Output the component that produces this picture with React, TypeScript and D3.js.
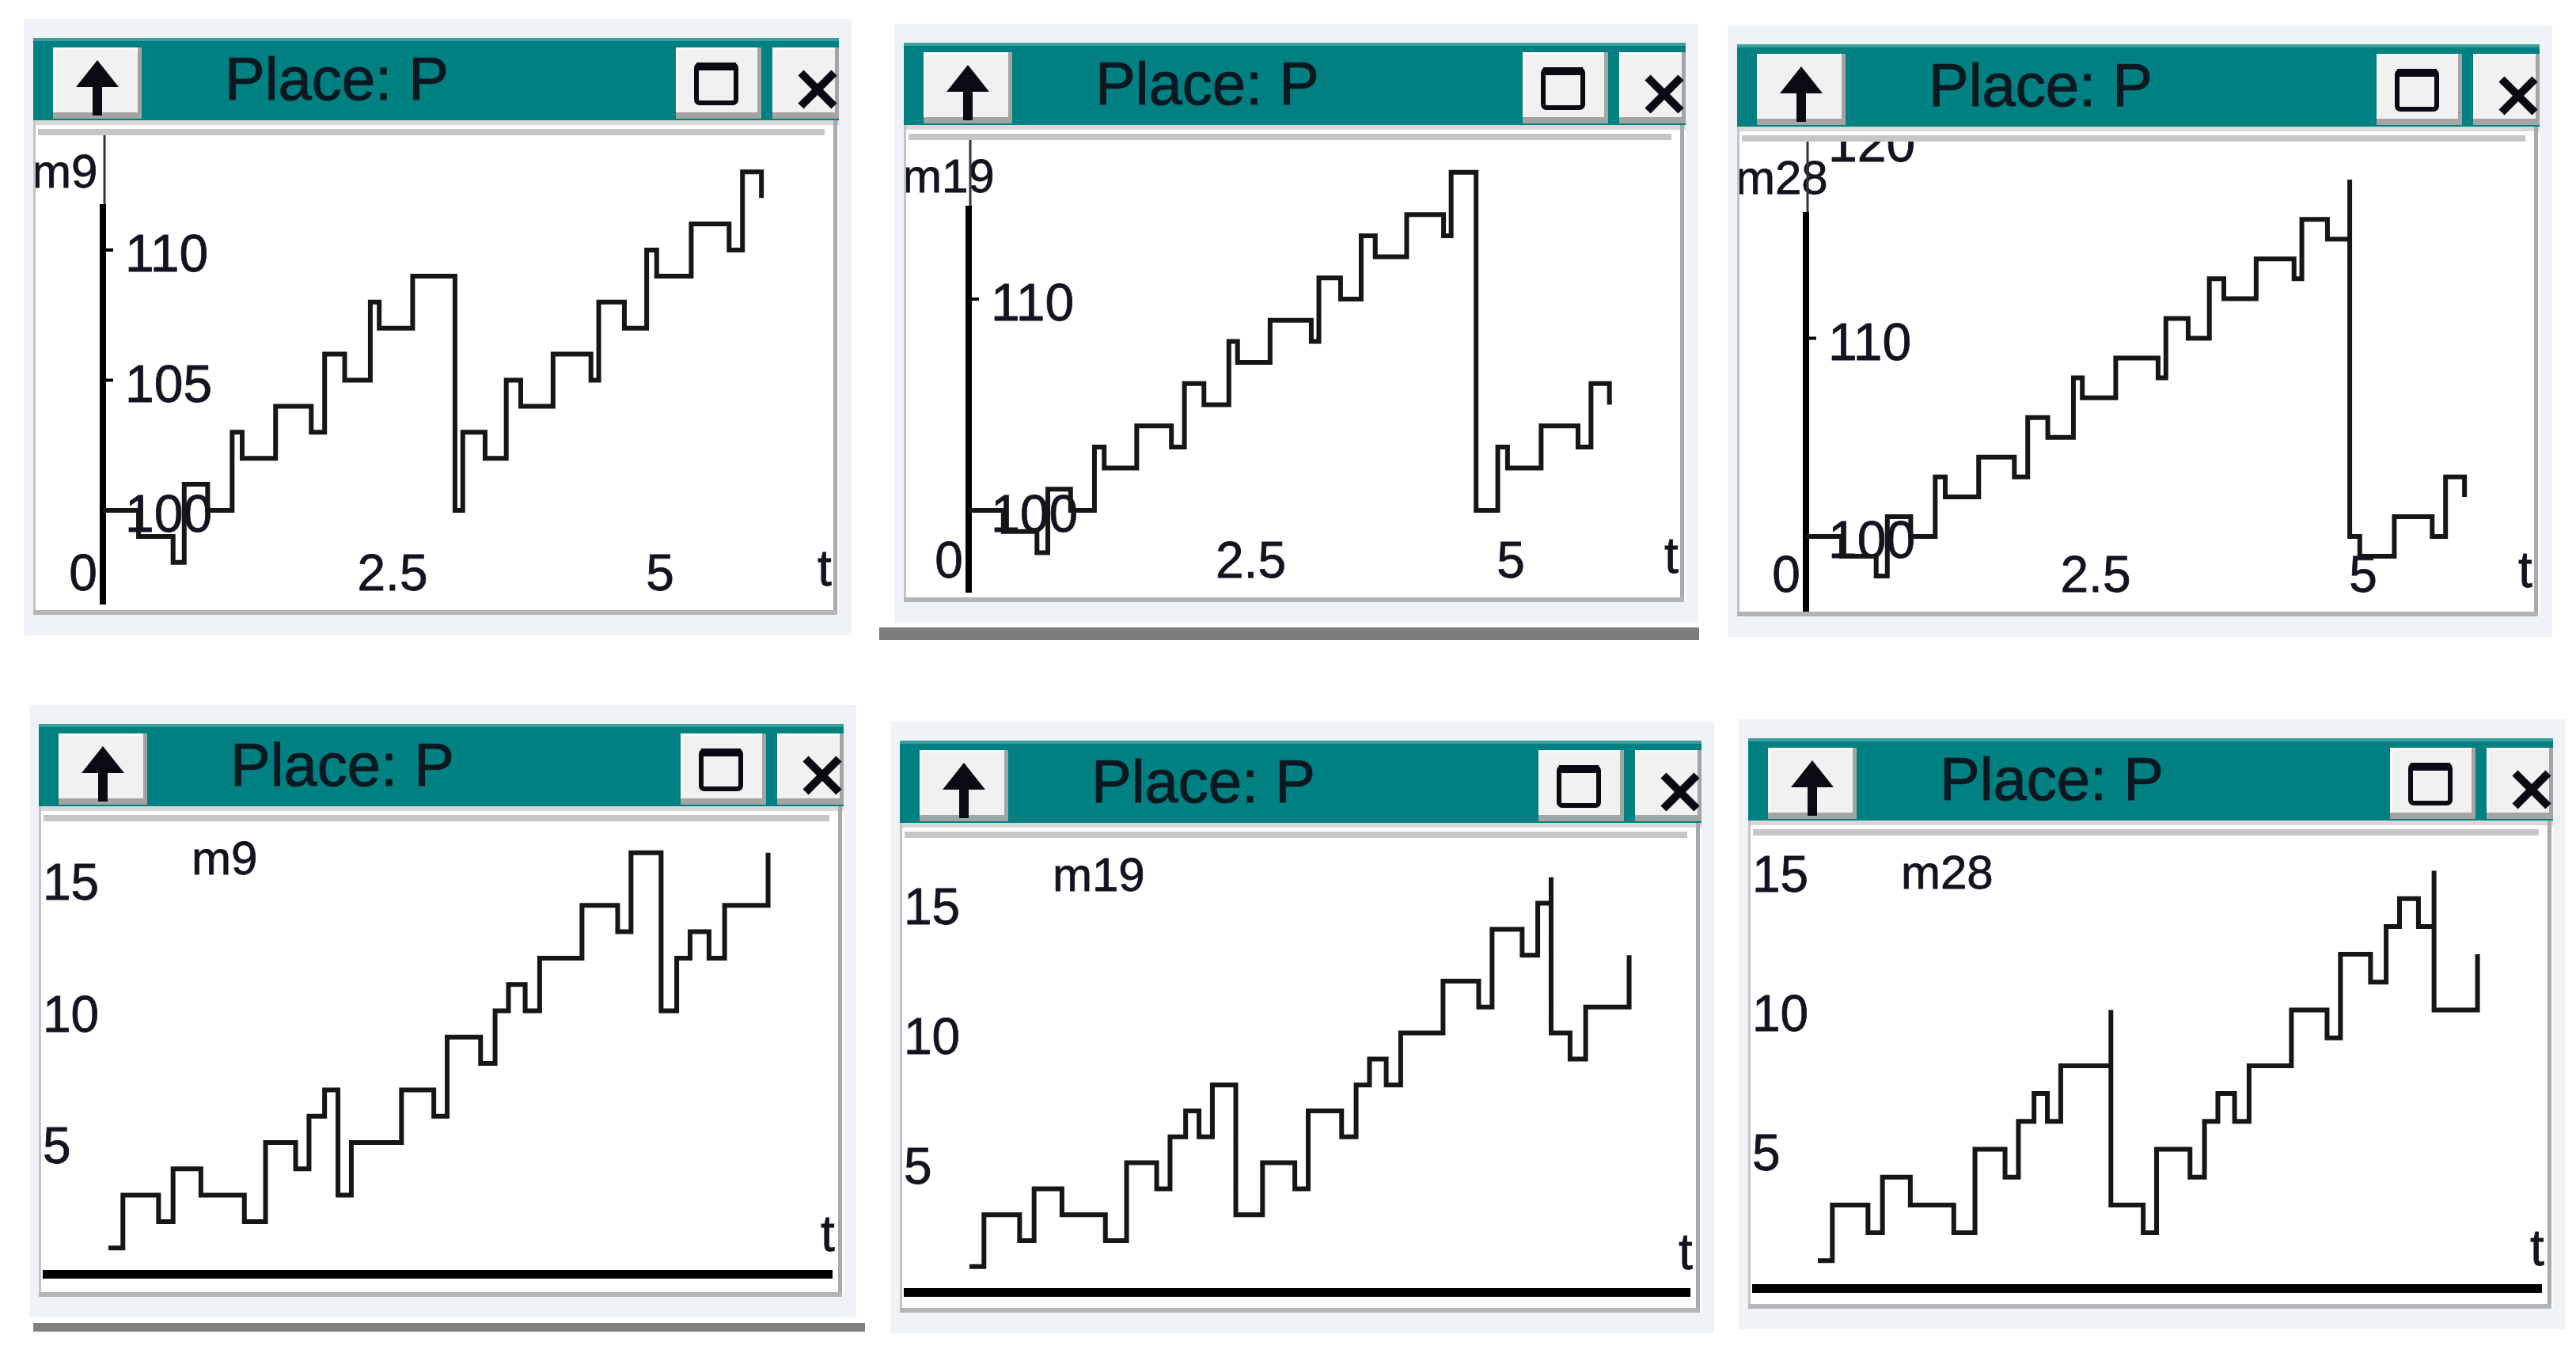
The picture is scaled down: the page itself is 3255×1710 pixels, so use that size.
import React from 'react';
import * as d3 from 'd3';

// a number is the marking after the event, a pair is [peak, value after reset]
type Level = number | [number, number];

const title = 'Place: P';
const timeLabel = 't';
const xTickValues = [0, 2.5, 5];
const xTickLabels = ['0', '2.5', '5'];

// upper row: marking of P against time, one window per run
const topNames = ['m9', 'm19', 'm28'];
const topTimes = [0, 0.32, 0.63, 0.73, 0.94, 1.16, 1.25, 1.55, 1.87, 1.99, 2.17, 2.4, 2.48, 2.78, 3.16, 3.23, 3.43, 3.62, 3.75, 4.04, 4.38, 4.45, 4.68, 4.88, 4.97, 5.28, 5.62, 5.74, 5.91];
const topM9: Level[] = [100, 99, 98, 101, 100, 103, 102, 104, 103, 106, 105, 108, 107, 109, 100, 103, 102, 105, 104, 106, 105, 108, 107, 110, 109, 111, 110, 113, 112];
const topM19: Level[] = [100, 99, 98, 101, 100, 103, 102, 104, 103, 106, 105, 108, 107, 109, 108, 111, 110, 113, 112, 114, 113, 116, 100, 103, 102, 104, 103, 106, 105];
const topM28: Level[] = [100, 99, 98, 101, 100, 103, 102, 104, 103, 106, 105, 108, 107, 109, 108, 111, 110, 113, 112, 114, 113, 116, 115, [118, 100], 99, 101, 100, 103, 102];
const topTicks = [[100, 105, 110], [100, 110], [100, 110, 120]];

// lower row
const bottomNames = ['m9', 'm19', 'm28'];
const bottomTimes = [0, 0.13, 0.45, 0.58, 0.83, 1.22, 1.41, 1.68, 1.8, 1.94, 2.06, 2.18, 2.39, 2.63, 2.92, 3.04, 3.34, 3.47, 3.59, 3.74, 3.87, 4.25, 4.57, 4.69, 4.96, 5.1, 5.22, 5.39, 5.53, 5.92];
const bottomM9: Level[] = [1, 3, 2, 4, 3, 2, 5, 4, 6, 7, 3, 5, 5, 7, 6, 9, 8, 10, 11, 10, 12, 14, 13, 16, 10, 12, 13, 12, 14, 16];
const bottomM19: Level[] = [1, 3, 2, 4, 3, 2, 5, 4, 6, 7, 6, 8, 3, 5, 4, 7, 6, 8, 9, 8, 10, 12, 11, 14, 13, 15, [16, 10], 9, 11, 13];
const bottomM28: Level[] = [1, 3, 2, 4, 3, 2, 5, 4, 6, 7, 6, 8, 8, [10, 3], 2, 5, 4, 6, 7, 6, 8, 10, 9, 12, 11, 13, 14, 13, [15, 10], 12];
const bottomTicks = [5, 10, 15];

const topSeries = [topM9, topM19, topM28];
const bottomSeries = [bottomM9, bottomM19, bottomM28];

// window placement on the page
const topFrames = [
  { x: 42, y: 48, w: 1018, h: 729, axisX: 130, tUnit: 140.8, y100: 645, y110: 316, axisTop: 258, axisBottom: 764 },
  { x: 1142, y: 54, w: 988, h: 707, axisX: 1224, tUnit: 137, y100: 645, y110: 378, axisTop: 260, axisBottom: 749 },
  { x: 2195, y: 56, w: 1014, h: 723, axisX: 2282, tUnit: 140.8, y100: 678, y110: 427.5, axisTop: 268, axisBottom: 774 },
];
const bottomFrames = [
  { x: 49, y: 915, w: 1017, h: 724, y0: 1610.5, y15: 1111 },
  { x: 1137, y: 936, w: 1013, h: 723, y0: 1633.6, y15: 1141.6 },
  { x: 2209, y: 933, w: 1017, h: 721, y0: 1628.5, y15: 1100.5 },
];

const FONT = '"Liberation Sans", Arial, Helvetica, sans-serif';
const TEAL = '#008080';
const INK = '#141420';
const TH = 104;

function toPoints(times: number[], values: Level[]): [number, number][] {
  const pts: [number, number][] = [];
  times.forEach((t, i) => {
    const v = values[i];
    if (Array.isArray(v)) {
      pts.push([t, v[0]], [t, v[1]]);
    } else {
      pts.push([t, v]);
    }
  });
  return pts;
}

const Button = ({ x, y, w, h }: { x: number; y: number; w: number; h: number }) => (
  <g>
    <rect x={x} y={y} width={w} height={h} fill="#a4a4a4" />
    <rect x={x} y={y} width={w - 5} height={h - 8} fill="#f1f1f1" />
    <rect x={x} y={y} width={w - 5} height={3} fill="#ffffff" />
    <rect x={x} y={y} width={3} height={h - 8} fill="#ffffff" />
  </g>
);

function Window({ f }: { f: { x: number; y: number; w: number; h: number } }) {
  const { x, y, w, h } = f;
  return (
    <g transform={`translate(${x},${y})`}>
      <rect x={-12} y={-24} width={w + 28} height={h + 50} fill="#eff3f8" />
      <rect x={0} y={0} width={w} height={h} fill="#ffffff" />
      <rect x={0} y={0} width={w} height={TH} fill={TEAL} />
      <rect x={0} y={0} width={w} height={4} fill="#3c9e9e" />
      <Button x={25} y={12} w={112} h={90} />
      <path d="M81,28 L108,62 L87,62 L87,98 L75,98 L75,62 L54,62 Z" fill="#0a0a12" />
      <text x={242} y={78} fontSize={76} fontFamily={FONT} fill="#0b1822" stroke="#0b1822" strokeWidth={1}>
        {title}
      </text>
      <Button x={w - 206} y={12} w={108} h={90} />
      <rect x={w - 180} y={34} width={50} height={48} rx={4} fill="none" stroke="#0a0a12" strokeWidth={6} />
      <rect x={w - 180} y={31} width={50} height={10} fill="#0a0a12" />
      <Button x={w - 84} y={12} w={84} h={90} />
      <path d={`M${w - 48},44 L${w - 6},86 M${w - 6},44 L${w - 48},86`} stroke="#0a0a12" strokeWidth={10} />
      <rect x={0} y={TH} width={w} height={6} fill="#d8d8d8" />
      <rect x={6} y={TH + 11} width={w - 24} height={8} fill="#c6c6c6" />
      <rect x={0} y={TH} width={3} height={h - TH} fill="#c4c4c4" />
      <rect x={w - 7} y={TH} width={5} height={h - TH} fill="#a9a9a9" />
      <rect x={0} y={h - 6} width={w - 2} height={6} fill="#b4b4b4" />
    </g>
  );
}

function TopChart({ i }: { i: number }) {
  const f = topFrames[i];
  const x = d3.scaleLinear().domain([0, 5]).range([f.axisX, f.axisX + 5 * f.tUnit]);
  const y = d3.scaleLinear().domain([100, 110]).range([f.y100, f.y110]);
  const line = d3
    .line<[number, number]>()
    .x((d) => x(d[0]))
    .y((d) => y(d[1]))
    .curve(d3.curveStepAfter);
  const pts = toPoints(topTimes, topSeries[i]);
  const clipId = `clip-top-${i}`;
  const labelY = f.y + f.h - 53;
  return (
    <g fontFamily={FONT}>
      <Window f={f} />
      <clipPath id={clipId}>
        <rect x={f.x + 3} y={f.y + TH + 19} width={f.w - 10} height={f.h - TH - 25} />
      </clipPath>
      <g clipPath={`url(#${clipId})`} stroke={INK} strokeWidth={0.8}>
        <text x={f.x - 2} y={f.y + 189} fontSize={60} fill={INK}>
          {topNames[i]}
        </text>
        <line x1={f.axisX + 2} x2={f.axisX + 2} y1={f.y + TH + 19} y2={f.axisTop} stroke="#333" strokeWidth={3} />
        <line x1={f.axisX} x2={f.axisX} y1={f.axisTop} y2={f.axisBottom} stroke="#000" strokeWidth={8} />
        {topTicks[i].map((v) => (
          <g key={v}>
            <line x1={f.axisX} x2={f.axisX + 13} y1={y(v)} y2={y(v)} stroke="#000" strokeWidth={4} />
            <text x={f.axisX + 28} y={y(v) + 4} fontSize={66} dominantBaseline="central" fill={INK}>
              {v}
            </text>
          </g>
        ))}
        {xTickValues.map((v, k) => (
          <text
            key={v}
            x={v === 0 ? f.axisX - 25 : x(v) + (Number.isInteger(v) ? 0 : 14)}
            y={labelY}
            fontSize={64}
            textAnchor="middle"
            dominantBaseline="central"
            fill={INK}
          >
            {xTickLabels[k]}
          </text>
        ))}
        <text x={f.x + f.w - 18} y={labelY - 6} fontSize={64} textAnchor="middle" dominantBaseline="central" fill={INK}>
          {timeLabel}
        </text>
        <path d={line(pts) ?? ''} fill="none" stroke="#161616" strokeWidth={6} />
      </g>
    </g>
  );
}

function BottomChart({ i }: { i: number }) {
  const f = bottomFrames[i];
  const t0 = f.x + 88;
  const x = d3.scaleLinear().domain([0, 5]).range([t0, t0 + 5 * 140.8]);
  const y = d3.scaleLinear().domain([0, 15]).range([f.y0, f.y15]);
  const line = d3
    .line<[number, number]>()
    .x((d) => x(d[0]))
    .y((d) => y(d[1]))
    .curve(d3.curveStepAfter);
  const pts = toPoints(bottomTimes, bottomSeries[i]);
  const clipId = `clip-bottom-${i}`;
  return (
    <g fontFamily={FONT}>
      <Window f={f} />
      <clipPath id={clipId}>
        <rect x={f.x + 3} y={f.y + TH + 19} width={f.w - 10} height={f.h - TH - 25} />
      </clipPath>
      <g clipPath={`url(#${clipId})`} stroke={INK} strokeWidth={0.8}>
        <text x={f.x + 193} y={f.y + 190} fontSize={60} fill={INK}>
          {bottomNames[i]}
        </text>
        {bottomTicks.map((v) => (
          <text key={v} x={f.x + 5} y={y(v) + 4} fontSize={64} dominantBaseline="central" fill={INK}>
            {v}
          </text>
        ))}
        <text x={f.x + f.w - 20} y={y(0) - 52} fontSize={64} textAnchor="middle" dominantBaseline="central" fill={INK}>
          {timeLabel}
        </text>
        <line x1={f.x + 5} x2={f.x + f.w - 14} y1={y(0)} y2={y(0)} stroke="#000" strokeWidth={11} />
        <path d={line(pts) ?? ''} fill="none" stroke="#161616" strokeWidth={6} />
      </g>
    </g>
  );
}

export default function App() {
  return (
    <>
      <style>{'body{margin:0;background:#fff}'}</style>
      <svg width={3255} height={1710} viewBox="0 0 3255 1710" style={{ display: 'block' }}>
        <rect width={3255} height={1710} fill="#ffffff" />
        {topFrames.map((_, i) => (
          <TopChart key={`t${i}`} i={i} />
        ))}
        {bottomFrames.map((_, i) => (
          <BottomChart key={`b${i}`} i={i} />
        ))}
        {/* edges of the windows lying underneath */}
        <rect x={1111} y={793} width={1036} height={16} fill="#7c7c7c" />
        <rect x={42} y={1672} width={1051} height={11} fill="#808080" />
      </svg>
    </>
  );
}
